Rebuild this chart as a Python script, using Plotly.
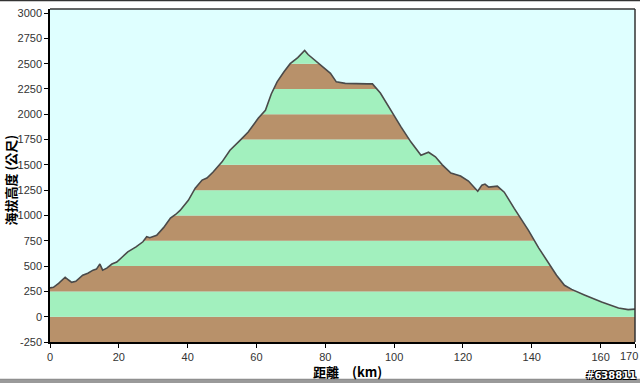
import plotly.graph_objects as go

# ---- data ----
distance_km = [0, 1, 2.5, 4.4, 5.5, 6.3, 7.5, 9.5, 11, 12.5, 13.5, 14.5, 15.3, 16.5, 18, 19.4,
               21, 22.6, 25, 27, 28.1, 29, 31, 33, 35, 36.5, 37.8, 40.2, 42.2, 44.2, 45.6, 47.4,
               50, 52.3, 55.3, 57.6, 60.5, 62.6, 64.3, 66, 68, 69.8, 72, 73, 74, 75, 77.7, 79.5,
               81.5, 83.2, 85.8, 92.2, 93.7, 96, 99, 102, 104.9, 107.8, 110, 112, 114, 116.5,
               119.3, 121.6, 124.3, 125.5, 126.4, 127.5, 130, 132, 134.9, 137, 139, 142, 144.8,
               147.2, 149.5, 151.6, 155.3, 160.3, 165.2, 168, 170]
elevation_m = [285, 290, 330, 390, 360, 340, 350, 410, 430, 460, 470, 520, 460, 480, 520, 540,
               590, 640, 690, 740, 790, 780, 805, 880, 975, 1010, 1050, 1150, 1270, 1350, 1370, 1430,
               1530, 1645, 1745, 1825, 1960, 2040, 2200, 2320, 2420, 2500, 2560, 2600, 2630, 2590, 2515, 2460,
               2405, 2320, 2305, 2300, 2300, 2210, 2040, 1875, 1725, 1595, 1625, 1580, 1500, 1420,
               1390, 1340, 1240, 1300, 1310, 1280, 1290, 1230, 1070, 960, 855, 680, 530,
               410, 310, 270, 215, 145, 85, 70, 75]

y_ticks = [-250, 0, 250, 500, 750, 1000, 1250, 1500, 1750, 2000, 2250, 2500, 2750, 3000]
x_ticks = [0, 20, 40, 60, 80, 100, 120, 140, 160, 170]

x_title = "距離　(km)"
y_title = "海拔高度 (公尺)"
watermark = "#638811"

# ---- style ----
BROWN = "#B8916A"
GREEN = "#A2F0BE"
SKY = "#DFFFFF"
LINE = "#4A4A4A"
Y_TOP = 3040

fig = go.Figure()

# sky above the profile: fill between the top of the plot and the profile
fig.add_trace(go.Scatter(x=distance_km, y=[Y_TOP] * len(distance_km), mode="lines",
                         line=dict(width=0, color=SKY), hoverinfo="skip", showlegend=False))
fig.add_trace(go.Scatter(x=distance_km, y=elevation_m, mode="lines", fill="tonexty",
                         fillcolor=SKY, line=dict(color=LINE, width=1.6), showlegend=False))

# alternating horizontal bands under the profile
shapes = []
for i in range(len(y_ticks) - 1):
    shapes.append(dict(type="rect", xref="paper", yref="y", x0=0, x1=1,
                       y0=y_ticks[i], y1=y_ticks[i + 1],
                       fillcolor=BROWN if i % 2 == 0 else GREEN,
                       line=dict(width=0), layer="below"))

# outer picture frame lines
shapes.append(dict(type="line", xref="paper", yref="paper", x0=-0.1, x1=1.02,
                   y0=1.0265, y1=1.0265, line=dict(color="#333333", width=2)))
shapes.append(dict(type="rect", xref="paper", yref="paper", x0=-0.1, x1=1.02,
                   y0=-0.128, y1=-0.113, fillcolor="#9A9A9A", line=dict(width=0)))
shapes.append(dict(type="line", xref="paper", yref="paper", x0=-0.1, x1=1.02,
                   y0=-0.112, y1=-0.112, line=dict(color="#777777", width=1)))

# last x tick label sits against the right edge, so it is placed as an annotation
x_ticktext = [str(v) for v in x_ticks[:-1]] + [""]

fig.update_layout(
    width=640, height=383,
    margin=dict(l=50, r=5, t=9, b=41),
    paper_bgcolor="white",
    plot_bgcolor=SKY,
    shapes=shapes,
    showlegend=False,
    font=dict(family="Liberation Sans, Arial, sans-serif", size=11, color="#222222"),
    xaxis=dict(range=[0, 170], tickvals=x_ticks, ticktext=x_ticktext,
               showgrid=False, zeroline=False, showline=True, linecolor="black", linewidth=1.5,
               ticks="outside", ticklen=4, tickcolor="black", mirror=False, automargin=False,
               tickfont=dict(size=11, color="#333333")),
    yaxis=dict(range=[-250, Y_TOP], tickvals=y_ticks, ticktext=[str(v) for v in y_ticks],
               showgrid=False, zeroline=False, showline=True, linecolor="black", linewidth=1.5,
               ticks="outside", ticklen=4, tickcolor="black", automargin=False,
               tickfont=dict(size=11, color="#333333")),
    annotations=[
        dict(text=str(x_ticks[-1]), xref="x", yref="paper", x=x_ticks[-1], y=0,
             xshift=5, yshift=-14, showarrow=False, xanchor="right", yanchor="middle",
             font=dict(size=11, color="#333333")),
        dict(text=f"<b>{x_title}</b>", xref="paper", yref="paper", x=0.5, y=0,
             xshift=5, yshift=-29, showarrow=False, xanchor="center", yanchor="middle",
             font=dict(family="Noto Sans CJK TC", size=13, color="black")),
        dict(text=f"<b>{y_title}</b>", xref="paper", yref="paper", x=0, y=0.5,
             xshift=-40, yshift=-5, showarrow=False, textangle=-90, xanchor="center",
             yanchor="middle", font=dict(family="Noto Sans CJK TC", size=13, color="black")),
        dict(text=f"<b>{watermark}</b>", xref="paper", yref="paper", x=1, y=0,
             xshift=3, yshift=-33, showarrow=False, xanchor="right", yanchor="middle",
             font=dict(family="DejaVu Sans", size=10, color="white",
                       shadow="-1px -1px 0 #000, 1px -1px 0 #000, -1px 1px 0 #000, 1px 1px 0 #000")),
    ],
)

# frame on top and right of the plot area
fig.add_shape(type="line", xref="paper", yref="paper", x0=0, x1=1, y0=1, y1=1,
              line=dict(color="#333333", width=1.5))
fig.add_shape(type="line", xref="paper", yref="paper", x0=1, x1=1, y0=0, y1=1,
              line=dict(color="#333333", width=1.5))

fig.write_html("out.html", config={"displayModeBar": False},
               post_script="document.body.style.margin='0';")
